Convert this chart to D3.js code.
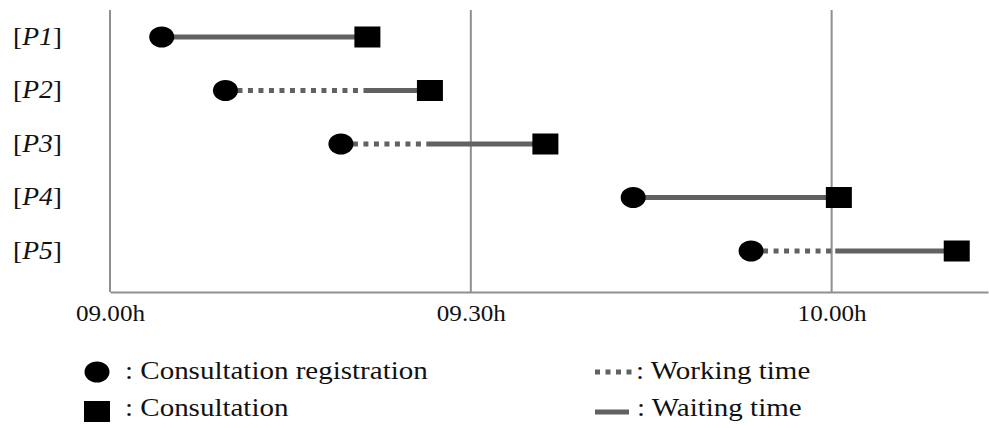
<!DOCTYPE html>
<html>
<head>
<meta charset="utf-8">
<script src="https://cdn.jsdelivr.net/npm/d3@7"></script>
<style>
  html, body { margin: 0; padding: 0; background: #fff; overflow: hidden; }
  svg { display: block; }
</style>
</head>
<body>
<svg id="chart" width="989" height="428"></svg>
<script>
// Patients and their timeline, in minutes after 09.00h
const patients      = ["P1", "P2", "P3", "P4", "P5"];
const registration  = [4.3, 9.6, 19.2, 43.5, 53.3];   // circle
const workingEnd    = [null, 21.2, 26.3, null, 60.3];  // end of dotted segment
const consultation  = [21.4, 26.6, 36.2, 60.6, 70.4];  // square
const tickMinutes   = [0, 30, 60];
const tickLabels    = ["09.00h", "09.30h", "10.00h"];
const axisEndMinute = 73;

const serif = "'Liberation Serif', 'Times New Roman', serif";
const base = new Date(2000, 0, 1, 9, 0, 0);
const at = m => new Date(base.getTime() + m * 60000);

const svg = d3.select("#chart");
const plotLeft = 110, plotRight = 988, plotTop = 10, plotBottom = 292;

const x = d3.scaleTime().domain([at(0), at(axisEndMinute)]).range([plotLeft, plotRight]);
const y = d3.scalePoint().domain(patients).range([37, 251]);

const grey = "#8f8f8f";
const lineGrey = "#616161";
const ink = "#111";

// Vertical grid lines at the half hours
svg.append("g").selectAll("line")
  .data(tickMinutes.slice(1))
  .join("line")
  .attr("x1", d => x(at(d))).attr("x2", d => x(at(d)))
  .attr("y1", plotTop).attr("y2", plotBottom)
  .attr("stroke", grey).attr("stroke-width", 2);

// Left axis line
svg.append("line")
  .attr("x1", plotLeft).attr("x2", plotLeft).attr("y1", plotTop).attr("y2", plotBottom)
  .attr("stroke", grey).attr("stroke-width", 2);

// Bottom time axis
const xAxis = d3.axisBottom(x)
  .tickValues(tickMinutes.map(at))
  .tickFormat((d, i) => tickLabels[i])
  .tickSize(0).tickPadding(12);
const gx = svg.append("g").attr("transform", `translate(0,${plotBottom})`).call(xAxis);
gx.select(".domain").attr("stroke", grey).attr("stroke-width", 2);
gx.selectAll("text")
  .style("font-family", serif)
  .style("font-size", "23.7px").attr("fill", ink)
  .attr("transform", "scale(1.06,1)");

// Patient labels
const yl = svg.append("g").selectAll("text").data(patients).join("text")
  .attr("transform", d => `translate(62,${y(d) + 7.5}) scale(1.06,1)`)
  .attr("text-anchor", "end")
  .style("font-family", serif).style("font-size", "26px").attr("fill", ink);
yl.append("tspan").text("[");
yl.append("tspan").style("font-style", "italic").text(d => d);
yl.append("tspan").text("]");

const rows = patients.map((p, i) => ({
  p, reg: registration[i], work: workingEnd[i], cons: consultation[i]
}));

// Working time (dotted) segments
svg.append("g").selectAll("line")
  .data(rows.filter(r => r.work !== null))
  .join("line")
  .attr("x1", r => x(at(r.reg)) + 12).attr("x2", r => x(at(r.work)))
  .attr("y1", r => y(r.p)).attr("y2", r => y(r.p))
  .attr("stroke", lineGrey).attr("stroke-width", 5)
  .attr("stroke-dasharray", "5,5.5");

// Waiting time (solid) segments
svg.append("g").selectAll("line")
  .data(rows)
  .join("line")
  .attr("x1", r => x(at(r.work !== null ? r.work : r.reg)))
  .attr("x2", r => x(at(r.cons)))
  .attr("y1", r => y(r.p)).attr("y2", r => y(r.p))
  .attr("stroke", lineGrey).attr("stroke-width", 5);

// Consultation registration markers
svg.append("g").selectAll("ellipse").data(rows).join("ellipse")
  .attr("cx", r => x(at(r.reg))).attr("cy", r => y(r.p))
  .attr("rx", 12.5).attr("ry", 10.5).attr("fill", "#000");

// Consultation markers
svg.append("g").selectAll("rect").data(rows).join("rect")
  .attr("x", r => x(at(r.cons)) - 13).attr("y", r => y(r.p) - 10.5)
  .attr("width", 26).attr("height", 21).attr("fill", "#000");

// Legend
const lg = svg.append("g");
const legendText = (xPos, yPos, s) => lg.append("text")
  .attr("transform", `translate(${xPos},${yPos}) scale(1.16,1)`)
  .style("font-family", serif).style("font-size", "25px").attr("fill", ink).text(s);

lg.append("ellipse").attr("cx", 97).attr("cy", 372).attr("rx", 12.5).attr("ry", 10.5).attr("fill", "#000");
legendText(125, 379, ": Consultation registration");
lg.append("rect").attr("x", 84).attr("y", 401).attr("width", 26).attr("height", 21).attr("fill", "#000");
legendText(125, 416, ": Consultation");

lg.append("line").attr("x1", 595).attr("x2", 636).attr("y1", 372).attr("y2", 372)
  .attr("stroke", lineGrey).attr("stroke-width", 5).attr("stroke-dasharray", "5,5.5");
legendText(636, 379, ": Working time");
lg.append("line").attr("x1", 595).attr("x2", 629).attr("y1", 412).attr("y2", 412)
  .attr("stroke", lineGrey).attr("stroke-width", 5);
legendText(637, 416, ": Waiting time");
</script>
</body>
</html>
